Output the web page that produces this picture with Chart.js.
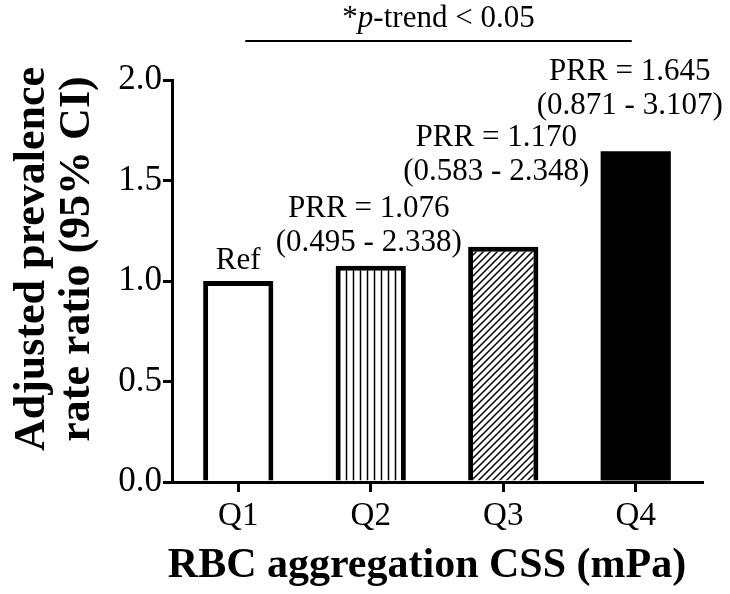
<!DOCTYPE html>
<html>
<head>
<meta charset="utf-8">
<script src="https://cdn.jsdelivr.net/npm/chart.js@4"></script>
<style>
  html, body { margin: 0; padding: 0; background: #fff; }
  #wrap { width: 730px; height: 594px; }
</style>
</head>
<body>
<div id="wrap"><canvas id="prrChart" width="730" height="594"></canvas></div>
<script>
// data
const quartiles = ['Q1', 'Q2', 'Q3', 'Q4'];
const prrValues = [1.0, 1.076, 1.170, 1.645];
const prrLine1 = ['Ref', 'PRR = 1.076', 'PRR = 1.170', 'PRR = 1.645'];
const prrLine2 = ['', '(0.495 - 2.338)', '(0.583 - 2.348)', '(0.871 - 3.107)'];
const yTicks = [0, 0.5, 1.0, 1.5, 2.0];
const yTitle = ['Adjusted prevalence', 'rate ratio (95% CI)'];
const xTitle = 'RBC aggregation CSS (mPa)';

// label placement (px above bar top, px sideways)
const labelGap = [20, 23, 75, 45];
const labelShift = [0, -2, -7, -6];

const serif = '"Liberation Serif", "Times New Roman", serif';

function makePattern(kind) {
  const c = document.createElement('canvas');
  const s = 7;
  c.width = s; c.height = s;
  const g = c.getContext('2d');
  g.fillStyle = '#fff';
  g.fillRect(0, 0, s, s);
  g.strokeStyle = '#000';
  g.lineWidth = 1.5;
  g.beginPath();
  if (kind === 'vert') {
    g.moveTo(s / 2, 0); g.lineTo(s / 2, s);
  } else {
    g.moveTo(0, s); g.lineTo(s, 0);
    g.moveTo(-1, 1); g.lineTo(1, -1);
    g.moveTo(s - 1, s + 1); g.lineTo(s + 1, s - 1);
  }
  g.stroke();
  return g.createPattern(c, 'repeat');
}

const fills = ['#fff', makePattern('vert'), makePattern('diag'), '#000'];

// bar notes, p-trend line and axis titles
const notes = {
  id: 'notes',
  afterDraw(chart) {
    const ctx = chart.ctx;
    const xs = chart.scales.x, ys = chart.scales.y;
    const area = chart.chartArea;
    ctx.save();
    ctx.fillStyle = '#000';
    ctx.textAlign = 'center';
    ctx.textBaseline = 'middle';
    ctx.font = '31px ' + serif;
    prrValues.forEach((v, i) => {
      const x = xs.getPixelForValue(i) + labelShift[i];
      const top = ys.getPixelForValue(v);
      if (prrLine2[i]) {
        ctx.fillText(prrLine2[i], x, top - labelGap[i]);
        ctx.fillText(prrLine1[i], x, top - labelGap[i] - 34);
      } else {
        ctx.fillText(prrLine1[i], x, top - labelGap[i]);
      }
    });

    // trend line
    const x1 = xs.getPixelForValue(0) + 7, x2 = xs.getPixelForValue(3) - 4;
    ctx.strokeStyle = '#000';
    ctx.lineWidth = 2;
    ctx.beginPath();
    ctx.moveTo(x1, 41); ctx.lineTo(x2, 41);
    ctx.stroke();
    const mid = (x1 + x2) / 2;
    ctx.font = 'italic 31px ' + serif;
    const wp = ctx.measureText('p').width;
    ctx.font = '31px ' + serif;
    const ws = ctx.measureText('*').width;
    const wr = ctx.measureText('-trend < 0.05').width;
    const sx = mid - (ws + wp + wr) / 2;
    ctx.textAlign = 'left';
    ctx.fillText('*', sx, 19);
    ctx.font = 'italic 31px ' + serif;
    ctx.fillText('p', sx + ws, 19);
    ctx.font = '31px ' + serif;
    ctx.fillText('-trend < 0.05', sx + ws + wp, 19);

    // axis titles
    ctx.textAlign = 'center';
    ctx.textBaseline = 'alphabetic';
    ctx.font = 'bold 42px ' + serif;
    ctx.fillText(xTitle, (area.left + area.right) / 2 - 10, 577);

    ctx.textBaseline = 'middle';
    ctx.font = 'bold 44px ' + serif;
    ctx.translate(0, (area.top + area.bottom) / 2 - 22);
    ctx.rotate(-Math.PI / 2);
    ctx.fillText(yTitle[0], 0, 33);
    ctx.fillText(yTitle[1], 0, 78);
    ctx.restore();
  }
};

new Chart(document.getElementById('prrChart'), {
  type: 'bar',
  data: {
    labels: quartiles,
    datasets: [{
      data: prrValues,
      backgroundColor: fills,
      borderColor: '#000',
      borderWidth: [5, 5, 5, 0],
      borderSkipped: 'bottom',
      barPercentage: 0.53,
      categoryPercentage: 1
    }]
  },
  options: {
    responsive: false,
    animation: false,
    layout: { padding: { top: 80, right: 28, left: 0, bottom: 0 } },
    plugins: { legend: { display: false }, tooltip: { enabled: false } },
    scales: {
      x: {
        grid: { display: true, drawOnChartArea: false, drawTicks: true, tickLength: 10, color: '#000', lineWidth: 3, offset: false },
        border: { color: '#000', width: 3 },
        ticks: { color: '#000', font: { family: serif, size: 33 }, padding: 5 },
        afterFit(s) { s.height = 112; }
      },
      y: {
        min: 0, max: 2,
        afterBuildTicks(s) { s.ticks = yTicks.map(v => ({ value: v })); },
        grid: { display: true, drawOnChartArea: false, drawTicks: true, tickLength: 9, color: '#000', lineWidth: 3 },
        border: { color: '#000', width: 3 },
        ticks: { color: '#000', font: { family: serif, size: 35 }, padding: 1, callback: v => Number(v).toFixed(1) },
        afterFit(s) { s.width = 172; }
      }
    }
  },
  plugins: [notes]
});
</script>
</body>
</html>
